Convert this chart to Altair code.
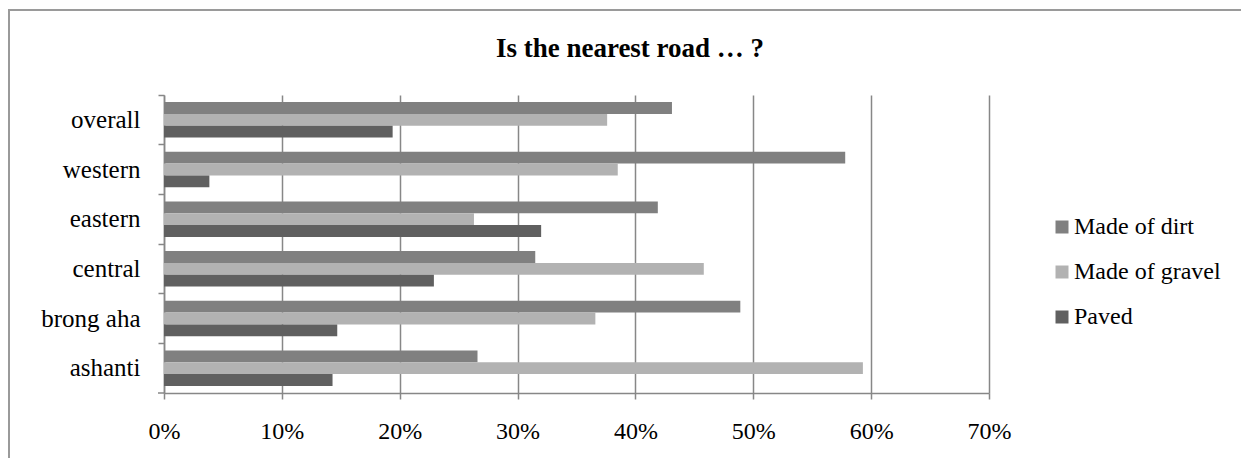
import altair as alt
import pandas as pd

regions = ["overall", "western", "eastern", "central", "brong aha", "ashanti"]
series = ["Made of dirt", "Made of gravel", "Paved"]
dirt = [43.1, 57.8, 41.9, 31.5, 48.9, 26.6]
gravel = [37.6, 38.5, 26.3, 45.8, 36.6, 59.3]
paved = [19.4, 3.85, 32.0, 22.9, 14.7, 14.3]
colors = ["#808080", "#b2b2b2", "#606060"]
x_ticks = [0, 0.1, 0.2, 0.3, 0.4, 0.5, 0.6, 0.7]
title_text = "Is the nearest road … ?"

rows = []
for name, vals in zip(series, [dirt, gravel, paved]):
    for r, v in zip(regions, vals):
        rows.append({"region": r, "series": name, "value": v / 100})
df = pd.DataFrame(rows)

FONT = "Liberation Serif"
GRID = "#878787"
FRAME = "#9a9a9a"

yscale = alt.Scale(domain=regions, paddingInner=0, paddingOuter=0)

bars = alt.Chart(df).mark_bar().encode(
    x=alt.X(
        "value:Q",
        scale=alt.Scale(domain=[0, 0.7], nice=False),
        axis=alt.Axis(
            values=x_ticks, format=".0%", title=None, grid=True,
            gridColor=GRID, gridWidth=1.5, domainColor=GRID, domainWidth=1.5,
            tickColor=GRID, tickWidth=1.5, tickSize=6, labelPadding=39,
            labelBaseline="alphabetic", labelFont=FONT, labelFontSize=24,
            labelColor="black", labelFlush=False,
        ),
    ),
    y=alt.Y(
        "region:N",
        scale=yscale,
        axis=alt.Axis(
            title=None, ticks=False, tickSize=0, domain=False, grid=False,
            labelPadding=24, labelFont=FONT, labelFontSize=25,
            labelColor="black", orient="left",
        ),
    ),
    yOffset=alt.YOffset(
        "series:N",
        scale=alt.Scale(domain=series, paddingInner=0, paddingOuter=0.6),
    ),
    color=alt.Color(
        "series:N",
        scale=alt.Scale(domain=series, range=colors),
        legend=alt.Legend(
            title=None, orient="none", legendX=886, legendY=120,
            symbolType="square", symbolSize=169, symbolStrokeWidth=0,
            labelFont=FONT, labelFontSize=24, labelColor="black",
            rowPadding=21, labelOffset=0, padding=0, offset=0,
        ),
    ),
)

ticks_layer = alt.Chart(df).mark_bar(opacity=0).encode(
    y=alt.Y(
        "region:N",
        scale=yscale,
        axis=alt.Axis(
            title=None, labels=False, bandPosition=0, tickSize=6,
            tickColor=GRID, tickWidth=1.5, domainColor=GRID, domainWidth=1.5,
            grid=False, orient="left",
        ),
    ),
)

one = pd.DataFrame({"k": [0]})
title_mark = alt.Chart(one).mark_text(
    font=FONT, fontSize=27, fontWeight="bold", color="black",
    align="center", baseline="alphabetic",
).encode(x=alt.value(466), y=alt.value(-38.5), text=alt.value(title_text))

frame_top = alt.Chart(one).mark_rule(color=FRAME, strokeWidth=2).encode(
    x=alt.value(-156), x2=alt.value(1100), y=alt.value(-85)
)
frame_left = alt.Chart(one).mark_rule(color=FRAME, strokeWidth=2).encode(
    x=alt.value(-155), y=alt.value(-86), y2=alt.value(400)
)
bottom_tick = alt.Chart(one).mark_rule(color=GRID, strokeWidth=1.5).encode(
    x=alt.value(-6), x2=alt.value(0), y=alt.value(298)
)

chart = (
    alt.layer(ticks_layer, bars, title_mark, frame_top, frame_left, bottom_tick)
    .resolve_axis(y="independent")
    .properties(
        width=825,
        height=298,
        autosize=alt.AutoSizeParams(type="none"),
        padding={"left": 156, "top": 87, "right": 252, "bottom": 65},
    )
    .configure_view(strokeWidth=0)
)

chart.save("out.html", embed_options={"renderer": "svg", "actions": False})
